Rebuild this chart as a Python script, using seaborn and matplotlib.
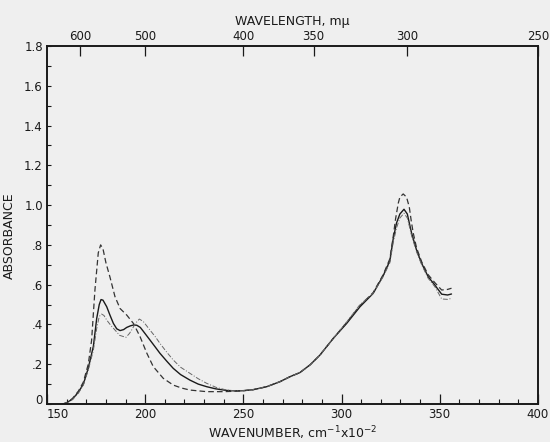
import numpy as np
import pandas as pd
import matplotlib
matplotlib.use("Agg")
import matplotlib.pyplot as plt
import seaborn as sns

# Absorbance spectra
# x = wavenumber in cm^-1 x 10^-2
SOLID_X = [158, 160, 163, 166, 168.5, 171, 173.6, 175.3, 176.6, 177.5, 178.5, 180.4,
           182, 183.8, 185.5, 187.2, 189, 190.6, 192.5, 194, 195.7, 197.5, 199, 202.4,
           205, 207.5, 211, 214.3, 218, 222.8, 227, 231.3, 236, 241.5, 246, 250, 255,
           261.9, 268.6, 273.7, 278.8, 284, 289, 295.8, 302.6, 309.4, 316.1, 321.2,
           324.6, 326.3, 328, 329.7, 331.8, 333.5, 334.5, 335.7, 338.2, 340.8, 344.1,
           347.5, 351, 354, 356]
SOLID_Y = [0.0, 0.006, 0.025, 0.06, 0.10, 0.18, 0.29, 0.43, 0.50, 0.525, 0.522, 0.489,
           0.448, 0.405, 0.378, 0.369, 0.374, 0.385, 0.393, 0.397, 0.396, 0.385, 0.366, 0.322,
           0.288, 0.255, 0.215, 0.179, 0.148, 0.12, 0.10, 0.087, 0.076, 0.068, 0.066, 0.067, 0.072,
           0.087, 0.112, 0.137, 0.158, 0.197, 0.246, 0.33, 0.405, 0.489, 0.556, 0.645,
           0.72, 0.83, 0.91, 0.955, 0.979, 0.955, 0.91, 0.858, 0.774, 0.707, 0.64,
           0.598, 0.552, 0.548, 0.553]

DASHED_X = [158, 160, 163, 166, 168.5, 171, 172.7, 174.4, 176.1, 177.3, 178.5, 180,
            182, 184.6, 187.2, 190.6, 194, 197.4, 200.8, 204.1, 209.2, 214.3, 218.6,
            222.8, 231.3, 240, 248.3, 255, 261.9, 268.6, 273.7, 278.8, 284, 289, 295.8,
            302.6, 309.4, 316.1, 321.2, 324.6, 326.3, 327.5, 328.9, 329.7, 331.4, 333.1,
            334.5, 335.5, 336.5, 338.2, 340.8, 344.1, 347.5, 351, 354, 356]
DASHED_Y = [0.0, 0.006, 0.028, 0.065, 0.11, 0.2, 0.32, 0.573, 0.76, 0.80, 0.78, 0.71,
            0.64, 0.54, 0.48, 0.447, 0.405, 0.338, 0.256, 0.188, 0.129, 0.095, 0.08,
            0.07, 0.062, 0.062, 0.065, 0.072, 0.087, 0.112, 0.137, 0.158, 0.197, 0.246, 0.33,
            0.41, 0.495, 0.56, 0.65, 0.73, 0.84, 0.93, 1.01, 1.04, 1.056, 1.04,
            0.99, 0.92, 0.86, 0.785, 0.715, 0.65, 0.61, 0.573, 0.576, 0.582]

DASHDOT_X = [158, 160, 163, 166, 168.5, 171, 173.6, 175.3, 176.6, 177.8, 179, 180.4,
             182.5, 184.6, 187, 190.2, 192, 193.1, 195, 197, 199, 202.4, 205, 207.5,
             211, 214.3, 218, 222.8, 227, 231.3, 236, 241.5, 246, 250, 255, 261.9, 268.6,
             273.7, 278.8, 284, 289, 295.8, 302.6, 309.4, 316.1, 321.2, 324.6, 326.3, 328,
             329.7, 331.8, 333.5, 334.5, 335.7, 338.2, 340.8, 344.1, 347.5, 351, 354, 356]
DASHDOT_Y = [0.0, 0.005, 0.022, 0.055, 0.095, 0.17, 0.27, 0.38, 0.44, 0.452, 0.445, 0.422,
             0.395, 0.372, 0.345, 0.335, 0.355, 0.372, 0.405, 0.427, 0.415, 0.372, 0.34, 0.305,
             0.26, 0.221, 0.185, 0.154, 0.127, 0.104, 0.084, 0.07, 0.066, 0.067, 0.072, 0.087, 0.112,
             0.137, 0.158, 0.197, 0.246, 0.33, 0.412, 0.50, 0.556, 0.64, 0.71, 0.81, 0.885,
             0.935, 0.959, 0.935, 0.895, 0.845, 0.765, 0.70, 0.632, 0.59, 0.528, 0.526, 0.531]

X_TICKS = [150, 200, 250, 300, 350, 400]
Y_TICKS = [0, 0.2, 0.4, 0.6, 0.8, 1.0, 1.2, 1.4, 1.6, 1.8]
Y_LABELS = ["0", ".2", ".4", ".6", ".8", "1.0", "1.2", "1.4", "1.6", "1.8"]
WL_MAJOR = [600, 500, 400, 350, 300, 250]

BG = "#efefef"
INK = "#1a1a1a"

sns.set_style("ticks")
plt.rcParams["font.family"] = ["DejaVu Sans"]

fig = plt.figure(figsize=(5.5, 4.42), dpi=100, facecolor=BG)
ax = fig.add_axes([0.0855, 0.086, 0.978 - 0.0855, 0.896 - 0.086])
ax.set_facecolor(BG)

sns.lineplot(x=SOLID_X, y=SOLID_Y, ax=ax, sort=False, estimator=None,
             color=INK, lw=1.0)
sns.lineplot(x=DASHED_X, y=DASHED_Y, ax=ax, sort=False, estimator=None,
             color="#333333", lw=0.9, linestyle=(0, (4.5, 2.5)))
sns.lineplot(x=DASHDOT_X, y=DASHDOT_Y, ax=ax, sort=False, estimator=None,
             color="#666666", lw=0.7, linestyle=(0, (5, 1.8, 1, 1.8)))

ax.set_xlim(150, 400)
ax.set_ylim(0, 1.8)

ax.set_xticks(X_TICKS)
ax.set_xticks(np.arange(160, 400, 10), minor=True)
ax.set_yticks(Y_TICKS)
ax.set_yticklabels(Y_LABELS)
ax.set_yticks(np.arange(0.1, 1.8, 0.2), minor=True)

for side in ["left", "bottom", "top", "right"]:
    ax.spines[side].set_linewidth(1.4)
    ax.spines[side].set_color(INK)
    ax.spines[side].set_visible(True)

ax.tick_params(axis="x", which="major", direction="in", length=7, width=0.9,
               labelsize=8.5, pad=3, colors=INK)
ax.tick_params(axis="x", which="minor", direction="in", length=3.5, width=0.8, colors=INK)
ax.tick_params(axis="y", which="both", direction="in", length=3, width=0.8,
               labelsize=8.5, pad=3, colors=INK)

# the "150" label sits just right of the corner in the original
ax.get_xticklabels()[0].set_horizontalalignment("left")
# and the "0" sits a little above the baseline
ax.get_yticklabels()[0].set_verticalalignment("baseline")

ax.set_xlabel("WAVENUMBER, cm$^{-1}$x10$^{-2}$", fontsize=9, color=INK, labelpad=2)
ax.set_ylabel("ABSORBANCE", fontsize=9, color=INK, labelpad=8)
ax.yaxis.set_label_coords(-0.063, 0.47)

# top axis in wavelength (m\u03bc), wavenumber = 1e5 / wavelength
top = ax.twiny()
top.set_xlim(ax.get_xlim())
wl_minor = np.concatenate([np.arange(660, 400, 10), np.arange(390, 350, 10),
                           np.arange(345, 250, 5)])
wl_minor = [w for w in wl_minor if w not in WL_MAJOR]
top.set_xticks([1e5 / w for w in WL_MAJOR])
top.set_xticklabels([str(w) for w in WL_MAJOR])
top.set_xticks([1e5 / w for w in wl_minor], minor=True)
top.tick_params(axis="x", which="major", direction="in", length=7, width=0.9,
                labelsize=8.5, pad=2, colors=INK)
top.tick_params(axis="x", which="minor", direction="in", length=3.5, width=0.8, colors=INK)
top.set_xlabel("WAVELENGTH, m\u03bc", fontsize=9, color=INK, labelpad=4)
for side in top.spines:
    top.spines[side].set_visible(False)

fig.savefig("out.png", dpi=100, facecolor=BG)
